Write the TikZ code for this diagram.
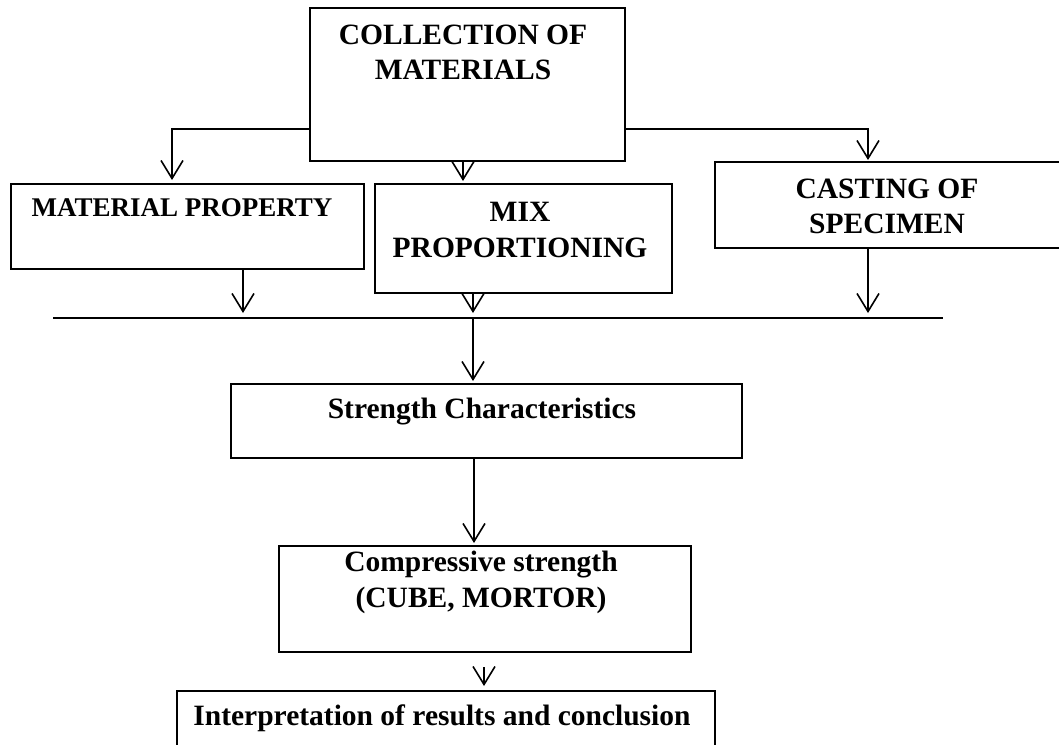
\documentclass[tikz,border=0pt]{standalone}
\usepackage{fontspec}
\setmainfont{Liberation Serif}
\usetikzlibrary{arrows.meta}
\tikzset{
  boxst/.style={draw, line width=1.6pt, inner sep=0pt, outer sep=0pt, anchor=north west},
  lbl/.style={inner sep=0pt, align=center, font=\fontsize{29.5}{35.5}\selectfont\bfseries},
  lblsmall/.style={inner sep=0pt, align=center, font=\fontsize{27}{32}\selectfont\bfseries},
  conn/.style={line width=1.6pt},
  arr/.style={line width=1.6pt, -{Straight Barb[length=18pt,width=22pt]}}
}
\begin{document}
\begin{tikzpicture}[x=1pt,y=-1pt]
\useasboundingbox (0,0) rectangle (1059,744);
% boxes
\node[boxst, minimum width=315pt, minimum height=153pt] (cm) at (310,8) {};
\node[boxst, minimum width=353pt, minimum height=85pt] (mp) at (11,184) {};
\node[boxst, minimum width=297pt, minimum height=109pt] (mix) at (375,184) {};
\node[boxst, minimum width=347pt, minimum height=86pt] (cast) at (715,162) {};
\node[boxst, minimum width=511pt, minimum height=74pt] (str) at (231,384) {};
\node[boxst, minimum width=412pt, minimum height=106pt] (comp) at (279,546) {};
\node[boxst, minimum width=538pt, minimum height=70pt] (interp) at (177,691) {};
% labels
\node[lbl] (cmt) at (463,52.5) {COLLECTION OF\\MATERIALS};
\node[lblsmall] (mpt) at (182,208) {MATERIAL PROPERTY};
\node[lbl] (mixt) at (520,230) {MIX\\PROPORTIONING};
\node[lbl] (castt) at (887,206.5) {CASTING OF\\SPECIMEN};
\node[lbl] (strt) at (482,412) {Strength Characteristics};
\node[lbl] (compt) at (481,582.5) {Compressive strength\\(CUBE, MORTOR)};
\node[lbl] (interpt) at (442,718) {Interpretation of results and conclusion};
% coordinates
\coordinate (bl) at (310,129);
\coordinate (br) at (625,129);
\coordinate (tl) at (172,180);
\coordinate (tr) at (868,160);
\coordinate (tm) at (463,181);
\coordinate (cmb) at (463,161);
\coordinate (hl) at (53,318);
\coordinate (hr) at (943,318);
\coordinate (mpb) at (243,269);
\coordinate (mpe) at (243,313);
\coordinate (mixb) at (473,293);
\coordinate (mixe) at (473,313);
\coordinate (castb) at (868,248);
\coordinate (caste) at (868,313);
\coordinate (hm) at (473,318);
\coordinate (stre) at (473,381);
\coordinate (strb) at (474,458);
\coordinate (compe) at (474,543);
\coordinate (cs) at (484,667);
\coordinate (ce) at (484,686);
% connectors
\draw[arr] (bl) -| (tl);
\draw[arr] (br) -| (tr);
\draw[arr] (cmb) -- (tm);
\draw[conn] (hl) -- (hr);
\draw[arr] (mpb) -- (mpe);
\draw[arr] (mixb) -- (mixe);
\draw[arr] (castb) -- (caste);
\draw[arr] (hm) -- (stre);
\draw[arr] (strb) -- (compe);
\draw[arr] (cs) -- (ce);
\end{tikzpicture}
\end{document}
